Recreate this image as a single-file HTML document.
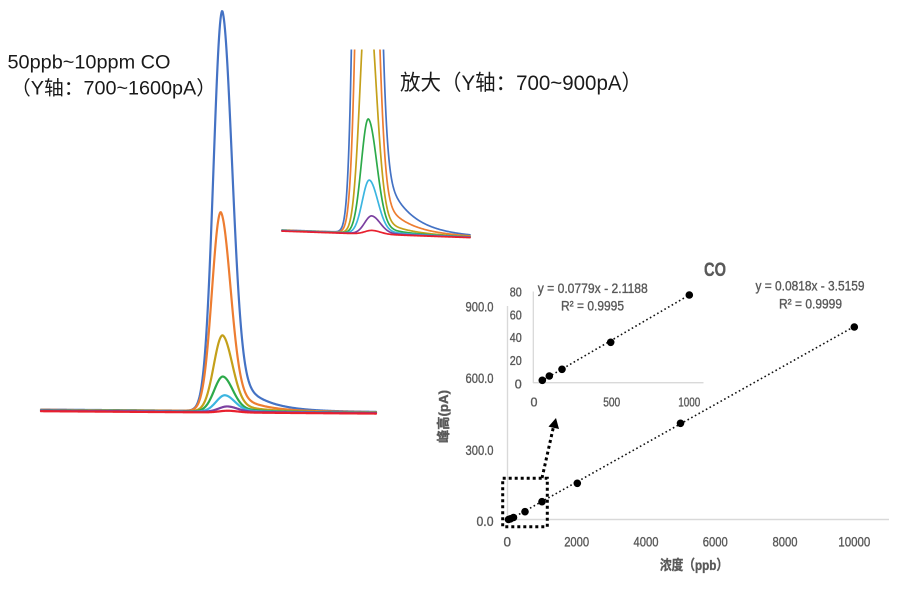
<!DOCTYPE html>
<html>
<head>
<meta charset="utf-8">
<style>
  html,body{margin:0;padding:0;background:#fff;}
  svg{display:block;}
  .t{font-family:"Liberation Sans","Noto Sans CJK SC",sans-serif;}
</style>
</head>
<body>
<svg id="s" width="900" height="589" viewBox="0 0 900 589" xmlns="http://www.w3.org/2000/svg">
  <rect x="0" y="0" width="900" height="589" fill="#fff"/>
  <defs>
    <clipPath id="zc"><rect x="270" y="49.5" width="220" height="200"/></clipPath>
  </defs>

  <!-- annotations -->
  <text class="t" x="7.5" y="68.5" font-size="19.5" fill="#1a1a1a" textLength="163" lengthAdjust="spacingAndGlyphs">50ppb~10ppm CO</text>
  <text class="t" x="11" y="94.5" font-size="19.5" fill="#1a1a1a" textLength="205" lengthAdjust="spacingAndGlyphs">（Y轴：700~1600pA）</text>
  <text class="t" x="400" y="90" font-size="21.5" fill="#1a1a1a" textLength="242" lengthAdjust="spacingAndGlyphs">放大（Y轴：700~900pA）</text>

  <g id="left"></g>
  <g id="zoom" clip-path="url(#zc)"></g>

  <!-- scatter chart -->
  <g class="t" fill="#595959">
    <g stroke="#595959" stroke-width="0.35">
    <text x="715" y="276" font-size="19" font-weight="bold" text-anchor="middle" textLength="22" lengthAdjust="spacingAndGlyphs">CO</text>

    <text x="493.5" y="311.5" font-size="13.5" text-anchor="end" textLength="28" lengthAdjust="spacingAndGlyphs">900.0</text>
    <text x="493.5" y="383.2" font-size="13.5" text-anchor="end" textLength="28" lengthAdjust="spacingAndGlyphs">600.0</text>
    <text x="493.5" y="454.8" font-size="13.5" text-anchor="end" textLength="28" lengthAdjust="spacingAndGlyphs">300.0</text>
    <text x="493.5" y="526" font-size="13.5" text-anchor="end" textLength="17" lengthAdjust="spacingAndGlyphs">0.0</text>

    <text x="507.3" y="546.7" font-size="13.5" text-anchor="middle">0</text>
    <text x="576.7" y="546.7" font-size="13.5" text-anchor="middle" textLength="25" lengthAdjust="spacingAndGlyphs">2000</text>
    <text x="646" y="546.7" font-size="13.5" text-anchor="middle" textLength="25" lengthAdjust="spacingAndGlyphs">4000</text>
    <text x="715.3" y="546.7" font-size="13.5" text-anchor="middle" textLength="25" lengthAdjust="spacingAndGlyphs">6000</text>
    <text x="785" y="546.7" font-size="13.5" text-anchor="middle" textLength="25" lengthAdjust="spacingAndGlyphs">8000</text>
    <text x="854.3" y="546.7" font-size="13.5" text-anchor="middle" textLength="32" lengthAdjust="spacingAndGlyphs">10000</text>

    <text x="694" y="570" font-size="14" font-weight="bold" text-anchor="middle" textLength="68" lengthAdjust="spacingAndGlyphs">浓度（ppb）</text>
    <text transform="translate(448,416.5) rotate(-90)" font-size="13" font-weight="bold" text-anchor="middle" textLength="53" lengthAdjust="spacingAndGlyphs">峰高(pA)</text>

    <text x="810" y="290.5" font-size="13.5" text-anchor="middle" textLength="109" lengthAdjust="spacingAndGlyphs">y = 0.0818x - 3.5159</text>
    <text x="810.5" y="308.5" font-size="13.5" text-anchor="middle" textLength="63" lengthAdjust="spacingAndGlyphs">R² = 0.9999</text>

    <text x="521.7" y="296.3" font-size="12.5" text-anchor="end" textLength="12" lengthAdjust="spacingAndGlyphs">80</text>
    <text x="521.7" y="319.3" font-size="12.5" text-anchor="end" textLength="12" lengthAdjust="spacingAndGlyphs">60</text>
    <text x="521.7" y="342" font-size="12.5" text-anchor="end" textLength="12" lengthAdjust="spacingAndGlyphs">40</text>
    <text x="521.7" y="365" font-size="12.5" text-anchor="end" textLength="12" lengthAdjust="spacingAndGlyphs">20</text>
    <text x="521.7" y="388.3" font-size="12.5" text-anchor="end">0</text>
    <text x="534" y="406.7" font-size="12.5" text-anchor="middle">0</text>
    <text x="611.7" y="406.7" font-size="12.5" text-anchor="middle" textLength="17" lengthAdjust="spacingAndGlyphs">500</text>
    <text x="689.3" y="406.7" font-size="12.5" text-anchor="middle" textLength="22" lengthAdjust="spacingAndGlyphs">1000</text>

    <text x="537.7" y="292.8" font-size="13.5" textLength="110" lengthAdjust="spacingAndGlyphs">y = 0.0779x - 2.1188</text>
    <text x="561" y="310.5" font-size="13.5" textLength="63" lengthAdjust="spacingAndGlyphs">R² = 0.9995</text>
    </g>

    <!-- main axes -->
    <line x1="507.5" y1="306" x2="507.5" y2="520" stroke="#d9d9d9" stroke-width="1.4"/>
    <line x1="507" y1="519.5" x2="889" y2="519.5" stroke="#d9d9d9" stroke-width="1.4"/>

    <!-- main trendline -->
    <line x1="508" y1="520.5" x2="854.3" y2="326.5" stroke="#111" stroke-width="1.6" stroke-dasharray="1.6 2.6"/>
    <g fill="#000">
      <circle cx="854.3" cy="327" r="3.8"/>
      <circle cx="680.5" cy="423.3" r="3.8"/>
      <circle cx="577.3" cy="483.3" r="3.8"/>
      <circle cx="542" cy="501.7" r="3.8"/>
      <circle cx="525" cy="511.7" r="3.8"/>
      <circle cx="513.5" cy="517.5" r="3.8"/>
      <circle cx="510.5" cy="518.8" r="3.8"/>
      <circle cx="508.5" cy="519.5" r="3.8"/>
    </g>

    <!-- inset axes -->
    <line x1="533.3" y1="291.5" x2="533.3" y2="383" stroke="#d9d9d9" stroke-width="1.3"/>
    <line x1="533" y1="382.7" x2="703.5" y2="382.7" stroke="#d9d9d9" stroke-width="1.3"/>

    <line x1="541" y1="381.3" x2="689.3" y2="295" stroke="#111" stroke-width="1.6" stroke-dasharray="1.6 2.6"/>
    <g fill="#000">
      <circle cx="689.3" cy="295" r="3.8"/>
      <circle cx="610.7" cy="342.3" r="3.8"/>
      <circle cx="562" cy="369.3" r="3.8"/>
      <circle cx="549.3" cy="376" r="3.8"/>
      <circle cx="542.3" cy="380.3" r="3.8"/>
    </g>

    <!-- dotted box + arrow -->
    <rect x="502.7" y="478.3" width="44.6" height="48.4" fill="none" stroke="#000" stroke-width="3" stroke-dasharray="3 3"/>
    <line x1="542" y1="478" x2="553.2" y2="428" stroke="#000" stroke-width="3" stroke-dasharray="3 3"/>
    <polygon points="556,418 559,429 548.5,426.6" fill="#000"/>
  </g>

  <script>
  (function(){
    var NS="http://www.w3.org/2000/svg";
    function f(d,sL,sR,w,t){
      if(d<0) return Math.exp(-d*d/(2*sL*sL));
      return (1-w)*Math.exp(-d*d/(2*sR*sR))+w*Math.exp(-d/t);
    }
    function draw(gid,x0,x1,base,series,sh,sw){
      var g=document.getElementById(gid);
      series.forEach(function(s){
        var pts=[];
        for(var x=x0;x<=x1+0.001;x+=0.5){
          var y=base(x)+s.o-s.h*f(x-s.c,sh[0],sh[1],sh[2],sh[3]);
          if(y<-50)y=-50;
          pts.push(x.toFixed(1)+","+y.toFixed(2));
        }
        var p=document.createElementNS(NS,"polyline");
        p.setAttribute("points",pts.join(" "));
        p.setAttribute("fill","none");
        p.setAttribute("stroke",s.col);
        p.setAttribute("stroke-width",sw);
        p.setAttribute("stroke-linejoin","round");
        p.setAttribute("stroke-linecap","round");
        g.appendChild(p);
      });
    }
    var C={b:"#4472C4",o:"#ED7D31",y:"#C4A01A",g:"#2DAA4A",c:"#3BB5E0",p:"#7B3FA0",r:"#E8202E"};
    draw("left",41,376,function(x){return 409.6+(x-41)/335*2.4;},[
      {h:400,c:222.3,col:C.b,o:0},
      {h:199,c:220.8,col:C.o,o:0.2},
      {h:76,c:222.6,col:C.y,o:0.4},
      {h:35,c:223,col:C.g,o:0.6},
      {h:16.5,c:225,col:C.c,o:0.8},
      {h:5.5,c:227.5,col:C.p,o:1.0},
      {h:1.8,c:228,col:C.r,o:1.6}
    ],[8.8,9.8,0.15,25],2.2);
    draw("zoom",282,470,function(x){return 230+(x-282)/188*6.5;},[
      {h:1330,c:365.3,col:C.b,o:0},
      {h:660,c:365.8,col:C.o,o:0.2},
      {h:250,c:367.3,col:C.y,o:0.4},
      {h:114.6,c:368.3,col:C.g,o:0.5},
      {h:53.6,c:369.3,col:C.c,o:0.6},
      {h:18,c:371.7,col:C.p,o:0.8},
      {h:3.8,c:372,col:C.r,o:1.1}
    ],[7,8.5,0.1,24],1.7);
  })();
  </script>
</svg>
</body>
</html>
